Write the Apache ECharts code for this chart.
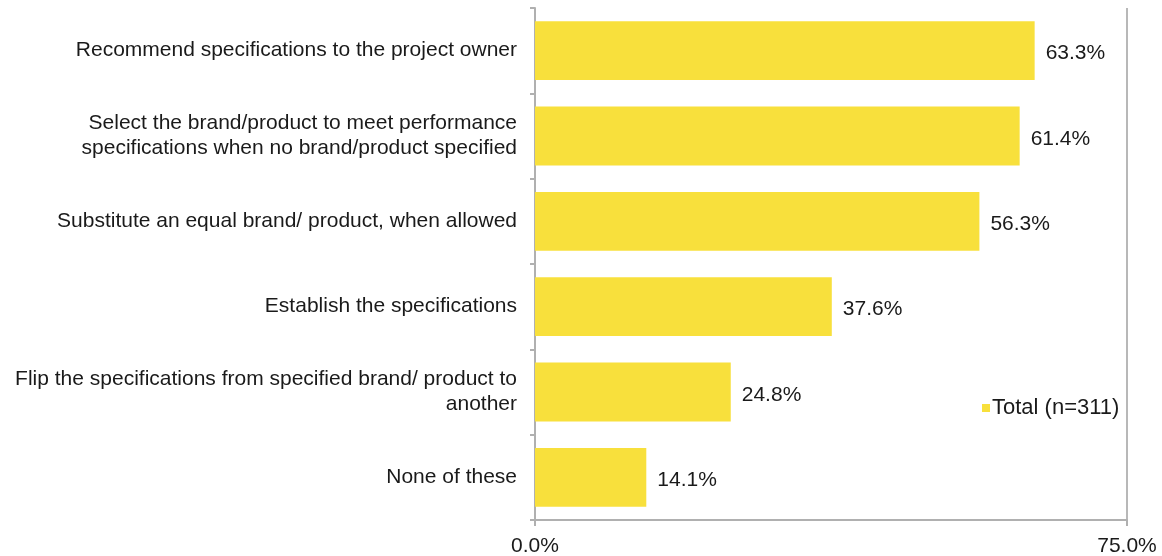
<!DOCTYPE html>
<html>
<head>
<meta charset="utf-8">
<script src="https://cdn.jsdelivr.net/npm/echarts@6/dist/echarts.min.js"></script>
<style>html,body{margin:0;padding:0;background:#fff}#c{width:1162px;height:556px}</style>
</head>
<body>
<div id="c"></div>
<script>
var categories = [
  "Recommend specifications to the project owner",
  "Select the brand/product to meet performance\nspecifications when no brand/product specified",
  "Substitute an equal brand/ product, when allowed",
  "Establish the specifications",
  "Flip the specifications from specified brand/ product to\nanother",
  "None of these"
];
var totalValues = [63.3, 61.4, 56.3, 37.6, 24.8, 14.1];
var seriesName = "Total (n=311)";
var xMin = 0, xMax = 75;

var chart = echarts.init(document.getElementById('c'), null, {renderer: 'canvas'});
chart.setOption({
  animation: false,
  backgroundColor: '#ffffff',
  textStyle: {fontFamily: 'Liberation Sans, Arial, sans-serif'},
  grid: {left: 535, right: 35, top: 8, bottom: 36, containLabel: false, outerBoundsMode: 'none'},
  legend: {
    data: [seriesName],
    left: 977, top: 392,
    itemWidth: 8, itemHeight: 8, itemGap: 5,
    icon: 'rect',
    textStyle: {fontSize: 22, color: '#1a1a1a', fontFamily: 'Liberation Sans, Arial, sans-serif', padding: [0,0,0,-3]}
  },
  xAxis: {
    type: 'value', min: xMin, max: xMax, interval: 75,
    axisLine: {show: true, lineStyle: {color: '#b0b0b0', width: 2}},
    axisTick: {show: true, length: 6, lineStyle: {color: '#b0b0b0', width: 2}},
    splitLine: {show: true, lineStyle: {color: '#b8b8b8', width: 2}},
    axisLabel: {
      margin: 16, fontSize: 21, color: '#1a1a1a',
      formatter: function (v) { return v.toFixed(1) + '%'; }
    }
  },
  yAxis: {
    type: 'category', data: categories, inverse: true,
    axisLine: {show: true, lineStyle: {color: '#b0b0b0', width: 2}},
    axisTick: {show: true, length: 5, lineStyle: {color: '#b0b0b0', width: 2}},
    axisLabel: {margin: 18, fontSize: 21, color: '#1a1a1a', lineHeight: 25, align: 'right'}
  },
  series: [{
    name: seriesName, type: 'bar', data: totalValues,
    barWidth: '69%',
    itemStyle: {color: '#F8E03C'},
    label: {
      show: true, position: 'right', distance: 11, offset: [0, 3],
      fontSize: 21, color: '#1a1a1a',
      formatter: function (p) { return p.value.toFixed(1) + '%'; }
    }
  }]
});
</script>
</body>
</html>
